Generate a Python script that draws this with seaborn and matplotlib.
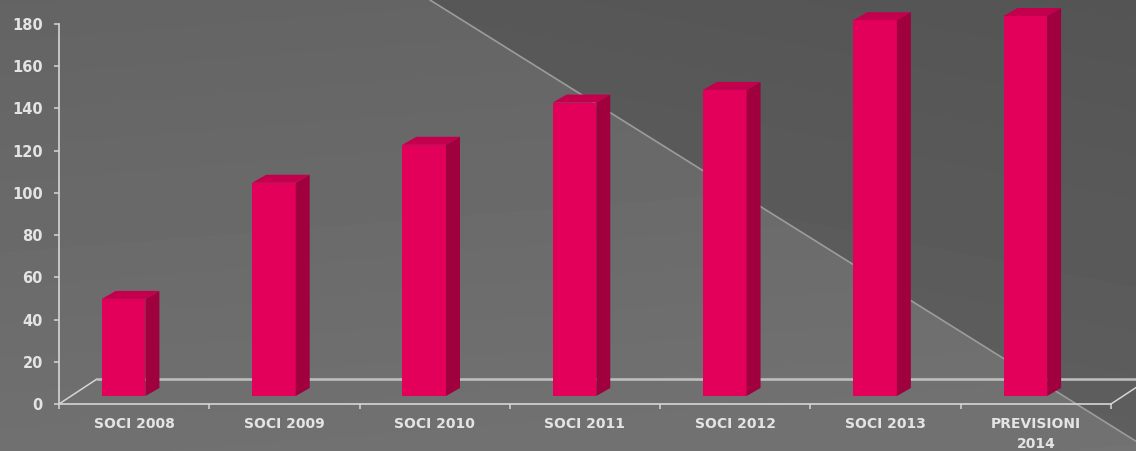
import numpy as np
import matplotlib
matplotlib.use("Agg")
import matplotlib.pyplot as plt
from matplotlib.patches import Polygon
import seaborn as sns

# ── data ─────────────────────────────────────────────────────────────────────
categories = ["SOCI 2008", "SOCI 2009", "SOCI 2010", "SOCI 2011",
              "SOCI 2012", "SOCI 2013", "PREVISIONI\n2014"]
values = [46, 101, 119, 139, 145, 178, 180]
y_ticks = list(range(0, 181, 20))

FRONT, SIDE, TOP = "#e3005a", "#a0003d", "#c4004e"
TXT = "#e4e4e4"
LINE = "#d6d6d6"

W, H = 1136, 451
sns.set_theme(style="white")
plt.rcParams["font.family"] = ["DejaVu Sans"]

fig = plt.figure(figsize=(W / 100, H / 100), dpi=100)

# ── background: grey gradient split by a diagonal ───────────────────────────
bg = fig.add_axes([0, 0, 1, 1], zorder=-5)
yy, xx = np.mgrid[0:H, 0:W]
line_y = (xx - 430) * 0.625
left = 0.39 + 0.05 * (yy / H) + 0.01 * (xx / W)
right = 0.35 + 0.04 * (yy / H) - 0.02 * (xx / W)
img = np.where(yy > line_y, left, right)
bg.imshow(img, cmap="gray", vmin=0, vmax=1, extent=[0, W, H, 0], aspect="auto")
bg.plot([430, W], [0, (W - 430) * 0.625], color="#9c9c9c", lw=1.2)
bg.set_xlim(0, W)
bg.set_ylim(H, 0)
bg.axis("off")

# ── main axes ────────────────────────────────────────────────────────────────
x0, x1, y0, y1 = 59, 1111, 404, 24
ax = fig.add_axes([x0 / W, (H - y0) / H, (x1 - x0) / W, (y0 - y1) / H])
ax.set_facecolor("none")

sns.barplot(x=categories, y=values, ax=ax, color=FRONT, width=0.29,
            saturation=1, edgecolor="none", zorder=3)
ax.set_xlim(-0.5, 6.5)
ax.set_ylim(0, 180)

px_x = (x1 - x0) / 7.0          # pixels per category
px_y = (y0 - y1) / 180.0        # pixels per unit
lift = 8 / px_y                 # bars stand a bit behind the front edge
dx, dy = 14 / px_x, 8 / px_y    # bar depth
fx, fy = 38 / px_x, 25 / px_y   # floor depth

# floor outline
ax.plot([-0.5, -0.5 + fx], [0, fy], color=LINE, lw=1.1, clip_on=False, zorder=1)
ax.plot([-0.5 + fx, 6.5 + fx], [fy, fy], color="#bdbdbd", lw=1.9,
        clip_on=False, zorder=1)
ax.plot([6.5, 6.5 + fx], [0, fy], color=LINE, lw=1.1, clip_on=False, zorder=1)

for p in ax.patches:
    p.set_x(p.get_x() - 0.07)
    p.set_y(lift)
    p.set_clip_on(False)
    bx, bw = p.get_x(), p.get_width()
    b0, b1 = lift, lift + p.get_height()
    side = [(bx + bw, b0), (bx + bw + dx, b0 + dy),
            (bx + bw + dx, b1 + dy), (bx + bw, b1)]
    top = [(bx, b1), (bx + dx, b1 + dy), (bx + bw + dx, b1 + dy), (bx + bw, b1)]
    ax.add_patch(Polygon(side, closed=True, fc=SIDE, ec="none",
                         clip_on=False, zorder=3))
    ax.add_patch(Polygon(top, closed=True, fc=TOP, ec="none",
                         clip_on=False, zorder=3))

# axes styling
sns.despine(ax=ax, top=True, right=True)
for s in ("left", "bottom"):
    ax.spines[s].set_color(LINE)
    ax.spines[s].set_linewidth(1.2)

ax.set_yticks(y_ticks)
ax.tick_params(axis="y", length=3.6, width=1.1, color=LINE, pad=8,
               labelsize=10.5, labelcolor=TXT, left=True)
ax.set_xticks(range(len(categories)))
ax.set_xticks(np.arange(-0.5, 7, 1), minor=True)
ax.tick_params(axis="x", which="major", length=0, pad=9, labelsize=10,
               labelcolor=TXT)
ax.tick_params(axis="x", which="minor", length=3.6, width=1.1, color=LINE,
               bottom=True)
for lab in ax.get_xticklabels() + ax.get_yticklabels():
    lab.set_fontweight("bold")
for lab in ax.get_xticklabels():
    lab.set_linespacing(1.55)
ax.set_xlabel("")
ax.set_ylabel("")

fig.savefig("out.png", dpi=100)
